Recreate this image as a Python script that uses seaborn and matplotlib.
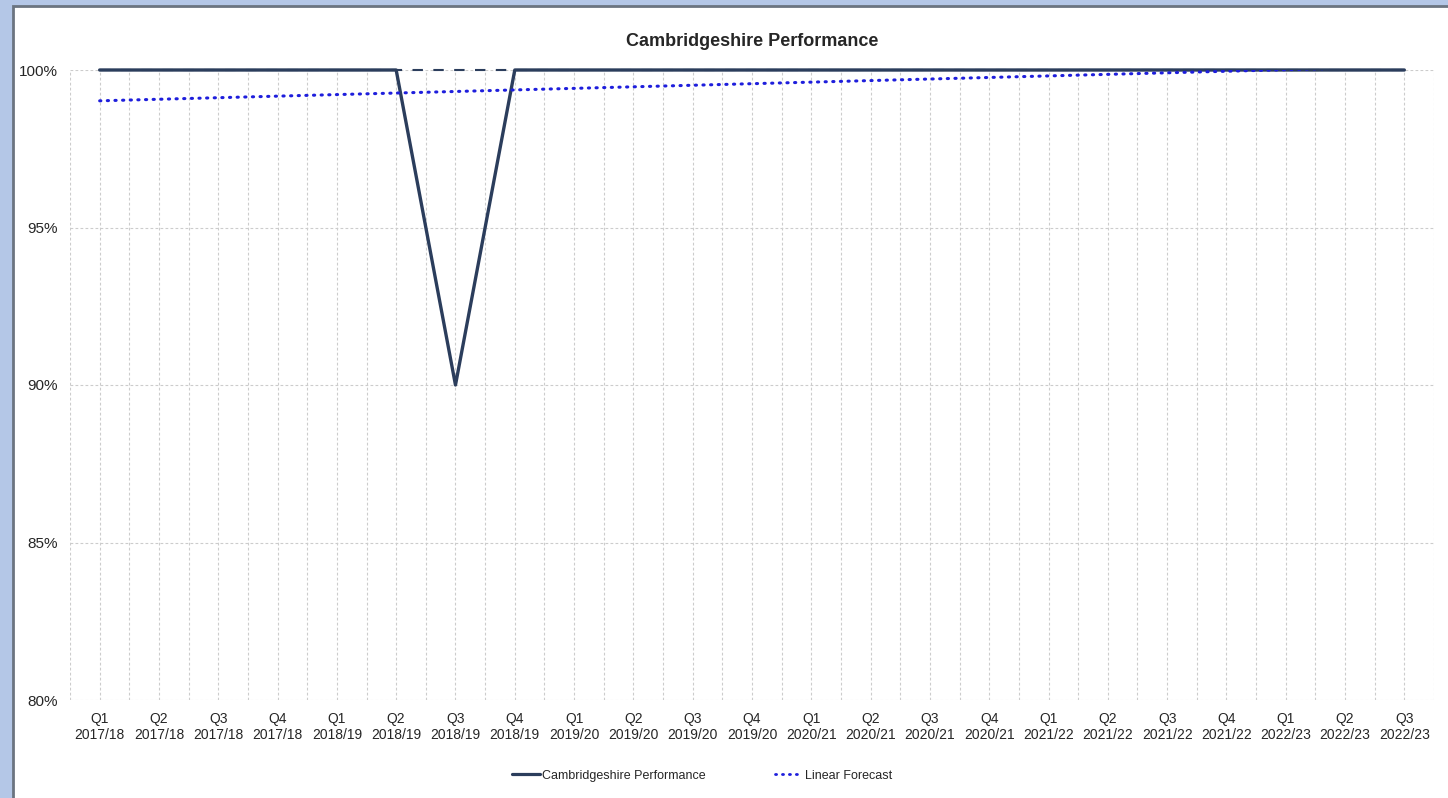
import pandas as pd
import numpy as np
import seaborn as sns
import matplotlib.pyplot as plt
from matplotlib.patches import Rectangle
from matplotlib.lines import Line2D

# quarters shown on the x axis
Quarters = ['Q1', 'Q2', 'Q3', 'Q4', 'Q1', 'Q2', 'Q3', 'Q4', 'Q1', 'Q2', 'Q3', 'Q4',
            'Q1', 'Q2', 'Q3', 'Q4', 'Q1', 'Q2', 'Q3', 'Q4', 'Q1', 'Q2', 'Q3']
Years = ['2017/18'] * 4 + ['2018/19'] * 4 + ['2019/20'] * 4 + ['2020/21'] * 4 + \
        ['2021/22'] * 4 + ['2022/23'] * 3
Performance = [100, 100, 100, 100, 100, 100, 90, 100, 100, 100, 100, 100,
               100, 100, 100, 100, 100, 100, 100, 100, 100, 100, 100]
Target = [100] * 23

Labels = [q + '\n' + y for q, y in zip(Quarters, Years)]
Data = pd.DataFrame({'Pos': np.arange(len(Labels)), 'Performance': Performance, 'Target': Target})

sns.set_style('white')
plt.rcParams['font.family'] = ['Liberation Sans', 'DejaVu Sans']

fig = plt.figure(figsize=(14.48, 7.98), dpi=100)
fig.patch.set_facecolor('#b4c7e7')
fig.patches.append(Rectangle((12.5 / 1448, -0.01), 1.02, 1 - 5.5 / 798 + 0.01,
                             transform=fig.transFigure, facecolor='white',
                             edgecolor='#6b7480', linewidth=2, zorder=-10))

ax = fig.add_axes([70 / 1448, 1 - 700 / 798, (1434 - 70) / 1448, (700 - 70) / 798])
ax.set_facecolor('white')

navy = '#2b3d5c'
blue = '#1e1edc'
sns.lineplot(data=Data, x='Pos', y='Target', color=navy, linewidth=1.5,
             dashes=False, linestyle=(0, (5, 5)), ax=ax, clip_on=False, zorder=2)
sns.lineplot(data=Data, x='Pos', y='Performance', color=navy, linewidth=2.4,
             ax=ax, clip_on=False, zorder=3)
sns.regplot(data=Data, x='Pos', y='Performance', scatter=False, ci=None, ax=ax,
            line_kws={'color': blue, 'linewidth': 2.2, 'linestyle': (0, (0.4, 2.1)),
                      'dash_capstyle': 'round', 'zorder': 4})

ax.set_xlim(-0.5, len(Labels) - 0.5)
ax.set_ylim(80, 100)
ax.set_xticks(Data['Pos'])
ax.set_xticklabels(Labels, fontsize=10, linespacing=1.1)
ax.set_xticks(np.arange(-0.5, len(Labels), 1), minor=True)
ax.set_yticks([80, 85, 90, 95, 100])
ax.set_yticklabels(['80%', '85%', '90%', '95%', '100%'], fontsize=11)
ax.tick_params(axis='both', which='both', length=0)
ax.tick_params(axis='x', pad=9)
ax.tick_params(axis='y', pad=9)
ax.grid(True, which='both', axis='x', color='#cccccc', linestyle=(0, (2.5, 2)), linewidth=0.8)
ax.grid(True, which='major', axis='y', color='#cccccc', linestyle=(0, (2.5, 2)), linewidth=0.8)
ax.set_axisbelow(True)
for s in ax.spines.values():
    s.set_visible(False)
ax.set_xlabel('')
ax.set_ylabel('')
ax.set_title('Cambridgeshire Performance', fontsize=13, fontweight='bold', pad=17)

handles = [Line2D([], [], color=navy, linewidth=2.3),
           Line2D([], [], color=blue, linewidth=2.0, linestyle=(0, (0.4, 2.1)),
                  dash_capstyle='round')]
fig.legend(handles, ['Cambridgeshire Performance', 'Linear Forecast'],
           loc='center', bbox_to_anchor=(0.485, 0.028), ncol=2, frameon=False,
           fontsize=9, handlelength=2.2, handletextpad=0.2, columnspacing=5.5)

fig.savefig('out.png', dpi=100, facecolor=fig.get_facecolor())
